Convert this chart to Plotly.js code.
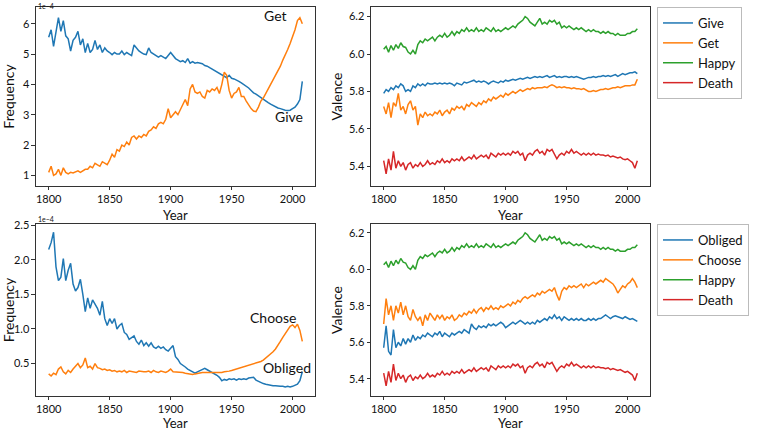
<!DOCTYPE html>
<html>
<head>
<meta charset="utf-8">
<script src="https://cdn.plot.ly/plotly-3.0.1.min.js"></script>
<style>html,body{margin:0;padding:0;background:#fff;}#chart{width:762px;height:433px;}</style>
</head>
<body>
<div id="chart"></div>
<script>
// Years sampled every 2 years, 1800..2008
const years = [];
for (let y = 1800; y <= 2008; y += 2) years.push(y);

// Frequency (x 1e-4)
const giveFreq = [
5.55,5.8,5.25,5.7,6.2,5.75,6.1,5.6,5.5,5.1,
5.45,5.55,5.75,5.3,5.5,5.05,5.35,5.05,5.15,5.45,
5.15,5.3,5.05,5.2,5.1,5.05,4.98,5.05,5.0,5.0,
5.1,4.98,5.05,5.0,4.95,5.3,5.2,5.1,5.05,5.0,
4.98,5.2,5.05,5.0,4.95,4.9,4.95,4.9,4.85,4.95,
5.05,4.95,4.85,4.8,4.75,4.78,4.72,4.85,4.7,4.75,
4.7,4.72,4.7,4.68,4.62,4.6,4.55,4.5,4.45,4.42,
4.35,4.3,4.25,4.22,4.3,4.2,4.18,4.15,4.1,4.05,
4.0,3.95,3.88,3.8,3.72,3.68,3.62,3.58,3.52,3.45,
3.4,3.35,3.3,3.26,3.22,3.2,3.17,3.15,3.14,3.15,
3.2,3.25,3.35,3.5,4.1];
const getFreq = [
1.1,1.3,1.0,1.05,1.2,1.0,1.25,1.1,1.05,1.1,
1.08,1.12,1.15,1.1,1.15,1.2,1.2,1.3,1.25,1.4,
1.35,1.3,1.45,1.4,1.35,1.5,1.7,1.6,1.85,1.8,
2.0,1.95,2.1,2.0,2.25,2.3,2.2,2.3,2.25,2.35,
2.3,2.45,2.5,2.6,2.55,2.7,2.75,2.7,2.85,3.2,
2.9,3.0,3.1,3.0,3.15,3.35,3.5,3.3,3.85,4.0,
3.75,3.7,3.75,3.6,3.55,3.8,3.75,3.85,3.8,3.9,
3.7,4.0,4.4,4.3,3.8,3.55,3.7,3.75,3.9,3.6,
3.6,3.45,3.3,3.2,3.12,3.1,3.25,3.45,3.55,3.7,
3.85,3.95,4.1,4.25,4.45,4.6,4.8,4.95,5.15,5.35,
5.55,5.8,6.1,6.2,6.0];
const obligedFreq = [
2.15,2.25,2.4,1.9,1.7,1.75,2.02,1.7,1.85,1.95,
1.65,1.55,1.6,1.72,1.5,1.25,1.45,1.3,1.42,1.35,
1.3,1.2,1.4,1.15,1.05,1.15,1.08,1.15,1.0,1.05,
1.08,0.95,0.92,0.85,0.88,0.9,0.82,0.78,0.84,0.76,
0.8,0.75,0.8,0.74,0.72,0.75,0.72,0.74,0.7,0.68,
0.72,0.76,0.6,0.56,0.5,0.48,0.45,0.42,0.4,0.38,
0.36,0.38,0.4,0.42,0.43,0.41,0.39,0.38,0.36,0.33,
0.3,0.25,0.27,0.26,0.28,0.27,0.28,0.26,0.28,0.27,
0.28,0.27,0.29,0.3,0.3,0.26,0.24,0.22,0.21,0.2,
0.19,0.19,0.18,0.18,0.17,0.17,0.17,0.16,0.17,0.16,
0.17,0.18,0.2,0.25,0.38];
const chooseFreq = [
0.35,0.32,0.36,0.34,0.42,0.45,0.38,0.35,0.4,0.37,
0.42,0.46,0.5,0.44,0.48,0.58,0.44,0.46,0.42,0.5,
0.44,0.43,0.41,0.42,0.4,0.41,0.39,0.4,0.38,0.39,
0.38,0.4,0.37,0.39,0.38,0.38,0.37,0.39,0.38,0.38,
0.38,0.39,0.37,0.4,0.38,0.37,0.39,0.38,0.37,0.39,
0.42,0.38,0.38,0.37,0.37,0.37,0.36,0.35,0.35,0.34,
0.35,0.36,0.37,0.37,0.37,0.37,0.36,0.36,0.36,0.36,
0.37,0.37,0.38,0.38,0.39,0.4,0.41,0.42,0.43,0.44,
0.45,0.46,0.47,0.48,0.49,0.5,0.51,0.53,0.55,0.58,
0.6,0.63,0.67,0.71,0.76,0.82,0.88,0.94,1.0,1.04,
1.06,1.02,1.07,0.98,0.82];

// Valence
const happyVal = [
6.025,6.04,6.01,6.045,6.02,6.05,6.03,6.06,6.04,6.035,
6.01,6.0,6.02,6.0,6.05,6.07,6.06,6.08,6.07,6.08,
6.09,6.07,6.09,6.1,6.09,6.11,6.09,6.1,6.12,6.1,
6.12,6.11,6.13,6.12,6.14,6.12,6.13,6.12,6.14,6.12,
6.13,6.12,6.14,6.13,6.12,6.14,6.12,6.13,6.12,6.13,
6.14,6.13,6.14,6.15,6.14,6.16,6.17,6.18,6.2,6.19,
6.17,6.16,6.15,6.17,6.19,6.16,6.17,6.16,6.18,6.17,
6.18,6.16,6.17,6.14,6.15,6.14,6.15,6.14,6.13,6.14,
6.13,6.14,6.13,6.12,6.13,6.12,6.13,6.12,6.12,6.11,
6.12,6.11,6.12,6.11,6.11,6.1,6.11,6.1,6.1,6.1,
6.11,6.11,6.12,6.12,6.135];
const deathVal = [
5.43,5.36,5.44,5.38,5.48,5.39,5.43,5.4,5.42,5.38,
5.41,5.42,5.39,5.41,5.4,5.42,5.4,5.41,5.43,5.41,
5.42,5.41,5.43,5.42,5.44,5.42,5.43,5.42,5.44,5.43,
5.44,5.43,5.45,5.43,5.44,5.45,5.44,5.46,5.44,5.45,
5.46,5.45,5.46,5.44,5.47,5.46,5.45,5.47,5.46,5.47,
5.46,5.47,5.46,5.48,5.47,5.48,5.46,5.47,5.43,5.46,
5.47,5.46,5.48,5.49,5.47,5.48,5.46,5.49,5.48,5.49,
5.46,5.44,5.46,5.47,5.46,5.48,5.47,5.49,5.47,5.48,
5.47,5.46,5.47,5.46,5.47,5.46,5.47,5.46,5.465,5.46,
5.46,5.455,5.46,5.45,5.455,5.45,5.445,5.45,5.44,5.435,
5.44,5.43,5.42,5.39,5.43];
const giveVal = [
5.79,5.81,5.8,5.82,5.81,5.83,5.82,5.84,5.83,5.8,
5.81,5.8,5.83,5.82,5.84,5.83,5.84,5.83,5.845,5.84,
5.84,5.845,5.84,5.845,5.84,5.845,5.84,5.845,5.84,5.83,
5.845,5.84,5.835,5.85,5.845,5.85,5.855,5.86,5.85,5.855,
5.85,5.855,5.85,5.84,5.85,5.855,5.85,5.845,5.855,5.85,
5.86,5.855,5.86,5.865,5.86,5.865,5.87,5.865,5.87,5.875,
5.87,5.875,5.88,5.875,5.88,5.875,5.88,5.885,5.875,5.88,
5.885,5.875,5.88,5.875,5.88,5.88,5.875,5.88,5.875,5.88,
5.875,5.87,5.865,5.87,5.875,5.875,5.88,5.875,5.88,5.88,
5.885,5.88,5.885,5.88,5.885,5.89,5.88,5.89,5.895,5.89,
5.895,5.9,5.9,5.905,5.895];
const getVal = [
5.72,5.68,5.74,5.66,5.74,5.72,5.79,5.7,5.72,5.68,
5.73,5.75,5.7,5.72,5.62,5.68,5.66,5.69,5.67,5.68,
5.67,5.69,5.68,5.7,5.67,5.69,5.7,5.68,5.71,5.7,
5.72,5.71,5.72,5.7,5.73,5.72,5.74,5.73,5.72,5.74,
5.73,5.75,5.74,5.76,5.75,5.77,5.76,5.77,5.78,5.77,
5.79,5.78,5.79,5.8,5.79,5.8,5.81,5.8,5.81,5.815,
5.81,5.82,5.815,5.82,5.82,5.82,5.825,5.82,5.83,5.835,
5.83,5.82,5.825,5.82,5.825,5.82,5.82,5.815,5.82,5.815,
5.815,5.81,5.815,5.805,5.8,5.8,5.805,5.8,5.805,5.81,
5.81,5.815,5.81,5.815,5.82,5.82,5.825,5.82,5.825,5.83,
5.83,5.83,5.835,5.835,5.865];
const obligedVal = [
5.57,5.69,5.55,5.53,5.67,5.57,5.6,5.58,5.62,5.59,
5.62,5.6,5.64,5.61,5.63,5.62,5.64,5.63,5.65,5.64,
5.63,5.65,5.64,5.66,5.63,5.65,5.64,5.63,5.65,5.64,
5.65,5.66,5.65,5.67,5.66,5.65,5.7,5.68,5.67,5.69,
5.68,5.69,5.68,5.7,5.69,5.7,5.69,5.7,5.71,5.7,
5.68,5.69,5.7,5.71,5.7,5.71,5.72,5.71,5.7,5.71,
5.7,5.71,5.7,5.72,5.71,5.72,5.73,5.72,5.74,5.73,
5.75,5.73,5.74,5.72,5.74,5.73,5.72,5.73,5.72,5.73,
5.72,5.73,5.72,5.72,5.73,5.72,5.73,5.72,5.73,5.73,
5.74,5.75,5.74,5.73,5.74,5.745,5.74,5.735,5.73,5.74,
5.73,5.725,5.73,5.72,5.715];
const chooseVal = [
5.7,5.84,5.75,5.8,5.72,5.8,5.76,5.82,5.75,5.8,
5.74,5.72,5.78,5.74,5.72,5.74,5.69,5.75,5.72,5.76,
5.74,5.72,5.75,5.73,5.75,5.72,5.74,5.73,5.75,5.72,
5.73,5.75,5.74,5.76,5.75,5.77,5.76,5.78,5.76,5.78,
5.79,5.77,5.79,5.78,5.8,5.78,5.79,5.78,5.8,5.79,
5.8,5.81,5.8,5.82,5.81,5.83,5.82,5.84,5.85,5.84,
5.85,5.86,5.85,5.87,5.86,5.88,5.87,5.88,5.89,5.88,
5.9,5.86,5.83,5.88,5.9,5.89,5.91,5.9,5.91,5.9,
5.91,5.92,5.9,5.92,5.91,5.92,5.93,5.92,5.93,5.94,
5.93,5.95,5.94,5.93,5.92,5.9,5.87,5.89,5.91,5.9,
5.92,5.93,5.95,5.93,5.9];

const xTicks = [1800, 1850, 1900, 1950, 2000];
const freqTicksTop = [1, 2, 3, 4, 5, 6];
const freqTicksBottom = [0.5, 1.0, 1.5, 2.0, 2.5];
const valenceTicks = [5.4, 5.6, 5.8, 6.0, 6.2];

const C = {blue:'#1f77b4', orange:'#ff7f0e', green:'#2ca02c', red:'#d62728'};
const FONT = 'Lato, "Open Sans", sans-serif';

function tr(y, color, xa, ya, name, legend, show) {
  return {x: years, y: y, type:'scatter', mode:'lines', name: name,
    line:{color: color, width:1.5}, xaxis: xa, yaxis: ya,
    showlegend: show, legend: legend};
}

const data = [
  tr(giveFreq, C.blue, 'x', 'y', 'Give', 'legend', false),
  tr(getFreq, C.orange, 'x', 'y', 'Get', 'legend', false),
  tr(giveVal, C.blue, 'x2', 'y2', 'Give', 'legend', true),
  tr(getVal, C.orange, 'x2', 'y2', 'Get', 'legend', true),
  tr(happyVal, C.green, 'x2', 'y2', 'Happy', 'legend', true),
  tr(deathVal, C.red, 'x2', 'y2', 'Death', 'legend', true),
  tr(obligedFreq, C.blue, 'x3', 'y3', 'Obliged', 'legend2', false),
  tr(chooseFreq, C.orange, 'x3', 'y3', 'Choose', 'legend2', false),
  tr(obligedVal, C.blue, 'x4', 'y4', 'Obliged', 'legend2', true),
  tr(chooseVal, C.orange, 'x4', 'y4', 'Choose', 'legend2', true),
  tr(happyVal, C.green, 'x4', 'y4', 'Happy', 'legend2', true),
  tr(deathVal, C.red, 'x4', 'y4', 'Death', 'legend2', true)
];

function xax(domain, anchor) {
  return {domain: domain, anchor: anchor, range:[1789.6, 2018.4],
    tickvals: xTicks, ticks:'outside', ticklen:3, tickcolor:'#333',
    showline:true, mirror:true, linecolor:'#333', linewidth:1,
    showgrid:false, zeroline:false, tickfont:{size:11, color:'#111'}};
}
function yax(domain, anchor, range, ticks, fmt, title, standoff) {
  return {domain: domain, anchor: anchor, range: range,
    tickvals: ticks, tickformat: fmt, ticks:'outside', ticklen:3.5, tickcolor:'#333',
    showline:true, mirror:true, linecolor:'#333', linewidth:1,
    showgrid:false, zeroline:false, tickfont:{size:11, color:'#111'},
    title:{text:title, font:{size:14, color:'#111'}, standoff: standoff}};
}

const X1 = [0.04724, 0.41339], X2 = [0.48688, 0.85302];
const YT = [0.57044, 0.98383], YB = [0.08545, 0.48268];
const xTitle = 'Year';

function xTitleAnn(domain, y, yanchor) {
  return {xref:'paper', yref:'paper', x:(domain[0]+domain[1])/2, y:y, xanchor:'center', yanchor:yanchor,
    text:xTitle, showarrow:false, font:{size:13, color:'#111'}};
}

const layout = {
  width:762, height:433,
  margin:{l:0, r:0, t:0, b:0},
  paper_bgcolor:'#fff', plot_bgcolor:'#fff',
  font:{family: FONT, color:'#111'},
  showlegend:true,
  xaxis: xax(X1, 'y'),
  yaxis: yax(YT, 'x', [0.65, 6.55], freqTicksTop, 'd', 'Frequency', 6),
  xaxis2: xax(X2, 'y2'),
  yaxis2: yax(YT, 'x2', [5.295, 6.251], valenceTicks, '.1f', 'Valence', 3),
  xaxis3: xax(X1, 'y3'),
  yaxis3: yax(YB, 'x3', [0.03, 2.52], freqTicksBottom, '.1f', 'Frequency', 2),
  xaxis4: xax(X2, 'y4'),
  yaxis4: yax(YB, 'x4', [5.305, 6.249], valenceTicks, '.1f', 'Valence', 3),
  legend:{x:0.8622, y:0.98383, xanchor:'left', yanchor:'top', bordercolor:'#bbb', borderwidth:1,
    bgcolor:'#fff', font:{size:13, color:'#111'}, itemwidth:30, tracegroupgap:0},
  legend2:{x:0.8622, y:0.48268, xanchor:'left', yanchor:'top', bordercolor:'#bbb', borderwidth:1,
    bgcolor:'#fff', font:{size:13, color:'#111'}, itemwidth:30, tracegroupgap:0},
  annotations:[
    xTitleAnn(X1, 0.5035, 'middle'),
    xTitleAnn(X2, 0.5035, 'middle'),
    xTitleAnn(X1, 0, 'bottom'),
    xTitleAnn(X2, 0, 'bottom'),
    {xref:'paper', yref:'paper', x:0.04724, y:1, xanchor:'left', yanchor:'top', text:'1e\u22124', showarrow:false, font:{size:7, color:'#111'}},
    {xref:'paper', yref:'paper', x:0.04724, y:0.5081, xanchor:'left', yanchor:'top', text:'1e\u22124', showarrow:false, font:{size:7, color:'#111'}},
    {xref:'x', yref:'y', x:1985.8, y:6.26, text:'Get', showarrow:false, font:{size:14, color:'#111'}},
    {xref:'x', yref:'y', x:1996.7, y:2.95, text:'Give', showarrow:false, font:{size:14, color:'#111'}},
    {xref:'x3', yref:'y3', x:1984.2, y:1.16, text:'Choose', showarrow:false, font:{size:14, color:'#111'}},
    {xref:'x3', yref:'y3', x:1995.7, y:0.44, text:'Obliged', showarrow:false, font:{size:14, color:'#111'}}
  ]
};

Plotly.newPlot('chart', data, layout, {staticPlot:true, displayModeBar:false});
</script>
</body>
</html>
